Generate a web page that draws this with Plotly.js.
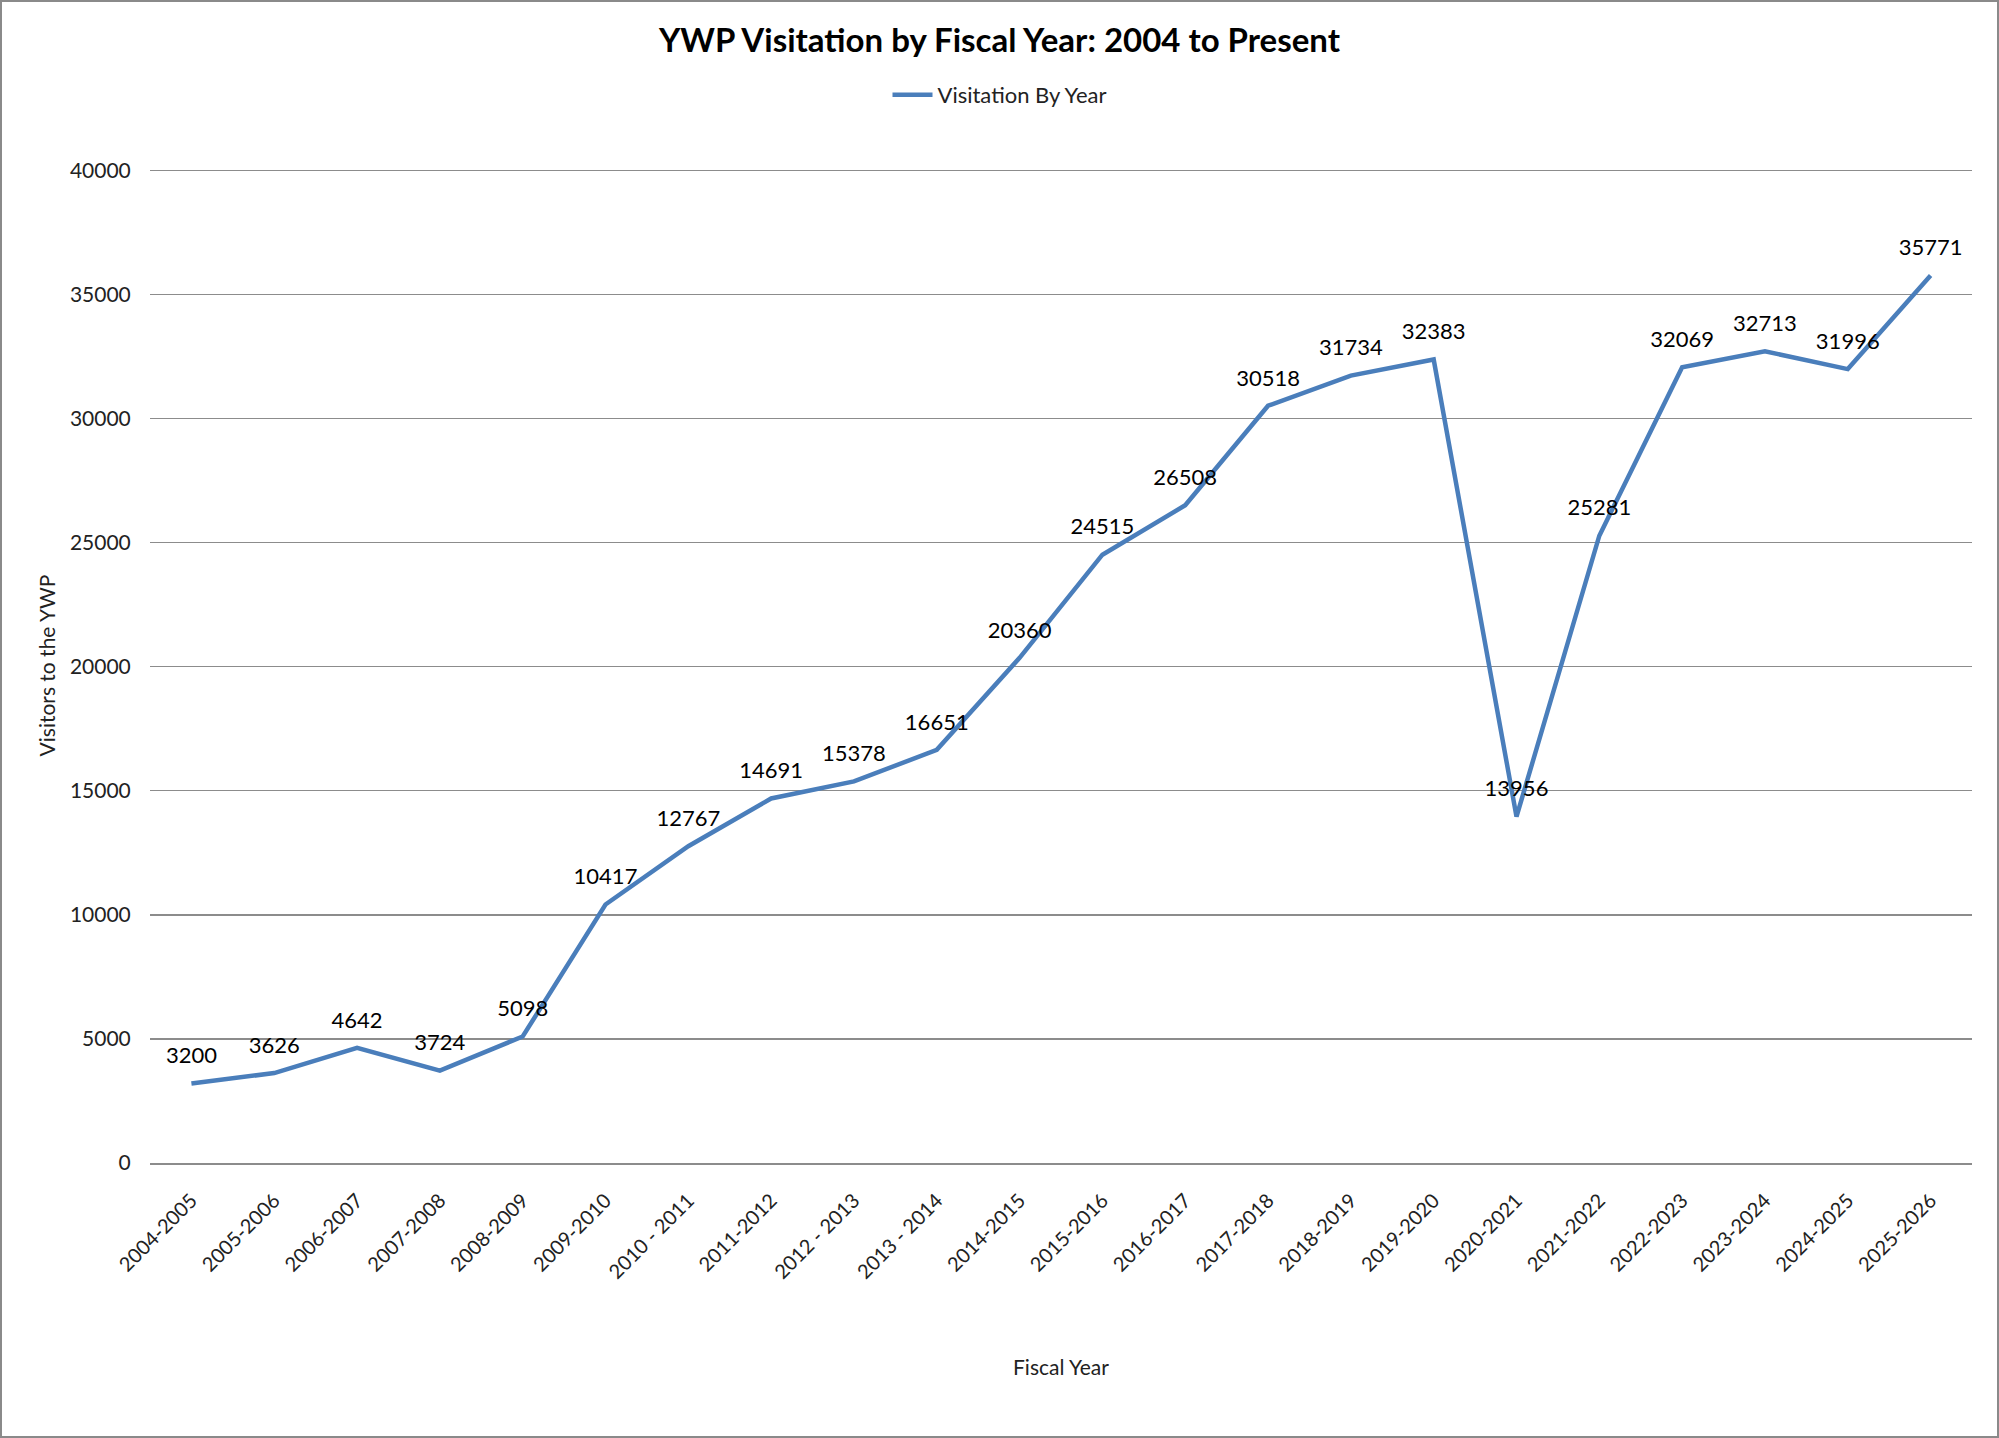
<!DOCTYPE html>
<html>
<head>
<meta charset="utf-8">
<script src="https://cdn.plot.ly/plotly-3.0.1.min.js"></script>
<style>
  html, body { margin: 0; padding: 0; background: #fff; }
  #wrap { position: relative; width: 1999px; height: 1438px; }
  #chart { position: absolute; left: 0; top: 0; width: 1999px; height: 1438px; }
  #frame { position: absolute; left: 0; top: 0; width: 1999px; height: 1438px;
           box-sizing: border-box; border: 2px solid #8a8a8a; pointer-events: none; }
</style>
</head>
<body>
<div id="wrap">
  <div id="chart"></div>
  <div id="frame"></div>
</div>
<script>
// Fiscal years and visitor counts
const fiscalYears = [
  "2004-2005", "2005-2006", "2006-2007", "2007-2008", "2008-2009", "2009-2010",
  "2010 - 2011", "2011-2012", "2012 - 2013", "2013 - 2014", "2014-2015", "2015-2016",
  "2016-2017", "2017-2018", "2018-2019", "2019-2020", "2020-2021", "2021-2022",
  "2022-2023", "2023-2024", "2024-2025", "2025-2026"
];
const visitors = [
  3200, 3626, 4642, 3724, 5098, 10417,
  12767, 14691, 15378, 16651, 20360, 24515,
  26508, 30518, 31734, 32383, 13956, 25281,
  32069, 32713, 31996, 35771
];
const seriesName = "Visitation By Year";
const yTicks = [0, 5000, 10000, 15000, 20000, 25000, 30000, 35000, 40000];

const FONT = "Lato, 'Open Sans', sans-serif";
const LINE_BLUE = "#4a7ebb";

// the visitation line itself
const lineTrace = {
  type: "scatter",
  mode: "lines",
  name: seriesName,
  x: fiscalYears,
  y: visitors,
  line: { color: LINE_BLUE, width: 4.5 },
  hoverinfo: "x+y"
};

// value labels above each point (invisible markers only set the label offset)
const labelTrace = {
  type: "scatter",
  mode: "markers+text",
  showlegend: false,
  x: fiscalYears,
  y: visitors,
  text: visitors.map(v => String(v)),
  textposition: "top center",
  textfont: { family: FONT, size: 22, color: "#000" },
  marker: { size: 22, opacity: 0, color: LINE_BLUE },
  cliponaxis: false,
  hoverinfo: "skip"
};

const layout = {
  width: 1999,
  height: 1438,
  paper_bgcolor: "rgba(0,0,0,0)",
  plot_bgcolor: "#fff",
  margin: { l: 150, r: 27, t: 168, b: 275 },
  font: { family: FONT, color: "#222" },
  title: {
    text: "<b>YWP Visitation by Fiscal Year: 2004 to Present</b>",
    font: { family: FONT, size: 33, color: "#000" },
    x: 0.5, xref: "container", xanchor: "center",
    y: 1 - 40 / 1438, yref: "container", yanchor: "middle"
  },
  showlegend: true,
  legend: {
    orientation: "h",
    xref: "container", yref: "container",
    x: 0.5, xanchor: "center",
    y: 1 - 95 / 1438, yanchor: "middle",
    font: { family: FONT, size: 22, color: "#222" },
    itemwidth: 40
  },
  xaxis: {
    type: "category",
    range: [-0.5, fiscalYears.length - 0.5],
    tickangle: -45,
    tickfont: { family: FONT, size: 20, color: "#222" },
    ticks: "outside", ticklen: 16, tickcolor: "rgba(0,0,0,0)",
    showline: true, linecolor: "#8c8c8c", linewidth: 2,
    showgrid: false, zeroline: false,
    title: { text: "Fiscal Year", font: { family: FONT, size: 21, color: "#222" }, standoff: 78 },
    automargin: false
  },
  yaxis: {
    range: [0, 40100],
    tickvals: yTicks,
    ticktext: yTicks.map(String),
    tickfont: { family: FONT, size: 21, color: "#222" },
    ticks: "outside", ticklen: 14, tickcolor: "rgba(0,0,0,0)",
    showgrid: true, gridcolor: "#8c8c8c", gridwidth: 1.3,
    zeroline: false, showline: false,
    title: { text: "Visitors to the YWP", font: { family: FONT, size: 21, color: "#222" }, standoff: 8 },
    automargin: false
  }
};

Plotly.newPlot("chart", [lineTrace, labelTrace], layout, { displayModeBar: false, staticPlot: true });
</script>
</body>
</html>
